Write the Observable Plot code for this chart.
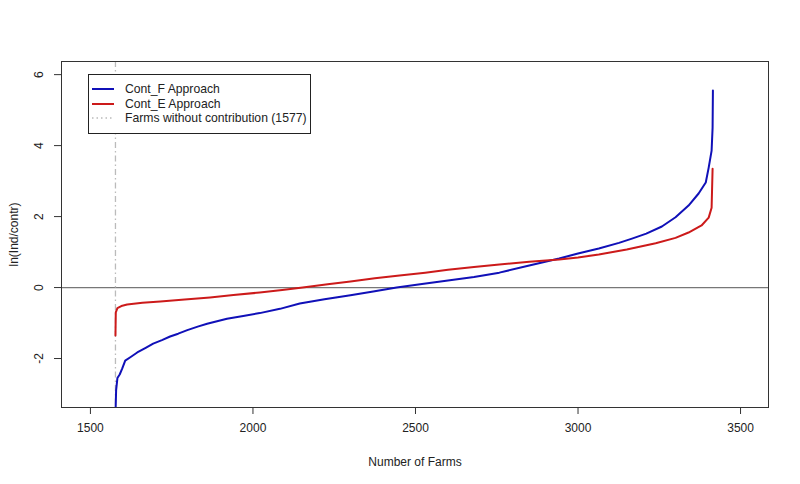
<!DOCTYPE html>
<html>
<head>
<meta charset="utf-8">
<script src="https://cdn.jsdelivr.net/npm/d3@7"></script>
<script src="https://cdn.jsdelivr.net/npm/@observablehq/plot@0.6"></script>
<style>
  html, body { margin: 0; padding: 0; background: #fff; }
  #wrap { position: relative; width: 800px; height: 484px; font-family: "Liberation Sans", Arial, sans-serif; }
  #legend { position: absolute; left: 88px; top: 74px; width: 221px; height: 58px; border: 1px solid #222; background: #fff; font-size: 12.2px; color: #222; }
  #legend .row { position: absolute; left: 0; height: 14px; line-height: 14px; white-space: nowrap; }
  #legend svg { position: absolute; left: 3px; top: 0; }
  #legend span { position: absolute; left: 36px; top: 0; }
</style>
</head>
<body>
<div id="wrap"></div>
<script>
// Cont_F approach (blue)
const contF_x = [1577, 1579, 1583, 1590, 1598, 1607, 1625, 1644, 1670, 1693, 1720, 1745, 1770, 1798, 1830, 1859, 1920, 1970, 2021, 2083, 2144, 2220, 2300, 2370, 2442, 2520, 2600, 2680, 2758, 2850, 2942, 3000, 3064, 3126, 3166, 3210, 3258, 3300, 3340, 3371, 3393, 3402, 3411, 3414, 3415];
const contF_y = [-3.6, -2.9, -2.55, -2.45, -2.28, -2.06, -1.95, -1.83, -1.70, -1.58, -1.48, -1.38, -1.30, -1.2, -1.10, -1.02, -0.88, -0.80, -0.72, -0.60, -0.45, -0.33, -0.22, -0.11, 0, 0.10, 0.2, 0.30, 0.42, 0.62, 0.82, 0.96, 1.10, 1.26, 1.38, 1.52, 1.72, 1.98, 2.31, 2.65, 2.96, 3.38, 3.86, 4.5, 5.55];
// Cont_E approach (red)
const contE_x = [1577, 1578, 1583, 1595, 1613, 1660, 1715, 1790, 1868, 1940, 2021, 2090, 2153, 2230, 2300, 2375, 2451, 2530, 2600, 2680, 2758, 2850, 2942, 3000, 3064, 3150, 3239, 3300, 3340, 3380, 3402, 3411, 3414];
const contE_y = [-1.35, -0.70, -0.58, -0.52, -0.48, -0.43, -0.39, -0.34, -0.28, -0.21, -0.14, -0.07, 0, 0.09, 0.17, 0.26, 0.34, 0.42, 0.5, 0.58, 0.65, 0.73, 0.79, 0.85, 0.93, 1.07, 1.25, 1.40, 1.55, 1.75, 1.97, 2.25, 3.35];
const noContribution = [1577];
const xTicks = [1500, 2000, 2500, 3000, 3500];
const yTicks = [-2, 0, 2, 4, 6];
const seriesNames = ["Cont_F Approach", "Cont_E Approach", "Farms without contribution (1577)"];
const seriesColors = ["#1010b8", "#cc1a1a", "#bbbbbb"];

const dataF = contF_x.map((x, i) => ({x, y: contF_y[i]}));
const dataE = contE_x.map((x, i) => ({x, y: contE_y[i]}));

const font = "12px 'Liberation Sans', Arial, sans-serif";
const chart = Plot.plot({
  width: 800,
  height: 484,
  marginLeft: 61,
  marginRight: 32,
  marginTop: 61,
  marginBottom: 77,
  style: {font, color: "#222", background: "#fff"},
  x: {domain: [1411, 3586]},
  y: {domain: [-3.38, 6.37]},
  marks: [
    Plot.ruleY([0], {stroke: "#777", strokeWidth: 1.2}),
    Plot.ruleX(noContribution, {stroke: "#bbb", strokeWidth: 1.3, strokeDasharray: "6,3,1.5,3"}),
    Plot.line(dataF, {x: "x", y: "y", stroke: seriesColors[0], strokeWidth: 2, clip: true}),
    Plot.line(dataE, {x: "x", y: "y", stroke: seriesColors[1], strokeWidth: 2, clip: true}),
    Plot.frame({stroke: "#333"}),
    Plot.axisX({ticks: xTicks, tickFormat: d => String(d), tickSize: 7, tickPadding: 9, stroke: "#333", fontSize: 12,
      label: "Number of Farms", labelAnchor: "center", labelArrow: "none", labelOffset: 58}),
    Plot.axisY({ticks: yTicks, tickFormat: () => "", tickSize: 7, stroke: "#333", fontSize: 12,
      label: "ln(Ind/contr)", labelAnchor: "center", labelArrow: "none", labelOffset: 52}),
    Plot.text(yTicks, {y: d => d, text: d => String(d), frameAnchor: "left", dx: -22, rotate: -90,
      textAnchor: "middle", lineAnchor: "middle", fill: "#222", fontSize: 12})
  ]
});
const wrap = document.getElementById("wrap");
wrap.appendChild(chart);

const legend = document.createElement("div");
legend.id = "legend";
seriesNames.forEach((name, i) => {
  const row = document.createElement("div");
  row.className = "row";
  row.style.top = (7 + i * 14.5) + "px";
  row.style.width = "100%";
  const dash = i === 2 ? 'stroke-dasharray="1.5,3"' : "";
  const sw = i === 2 ? 1.3 : 2;
  row.innerHTML = `<svg width="24" height="14"><line x1="0" x2="22" y1="7" y2="7" stroke="${seriesColors[i]}" stroke-width="${sw}" ${dash}/></svg><span>${name}</span>`;
  legend.appendChild(row);
});
wrap.appendChild(legend);
</script>
</body>
</html>
